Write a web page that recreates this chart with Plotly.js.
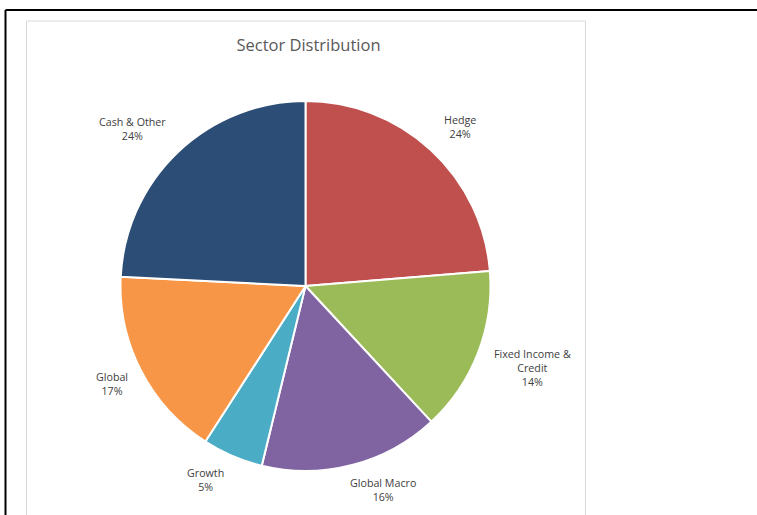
<!DOCTYPE html>
<html>
<head>
<meta charset="utf-8">
<script src="https://cdn.plot.ly/plotly-3.0.1.min.js"></script>
<style>
html,body{margin:0;padding:0;background:#fff;}
#chart{width:757px;height:515px;}
</style>
</head>
<body>
<div id="chart"></div>
<script>
// Data
const sectors = ["Hedge", "Fixed Income &<br>Credit", "Global Macro", "Growth", "Global", "Cash & Other"];
const shares = [23.7, 14.4, 15.7, 5.3, 16.7, 24.2];
const percentLabels = ["24%", "14%", "16%", "5%", "17%", "24%"];
const colors = ["#C0504D", "#9BBB59", "#8064A2", "#4BACC6", "#F79646", "#2C4D75"];

const W = 757, H = 515;
const cx = 305.5, cy = 286, R = 185;

// "best fit" label nudges in pixels (layout only)
const labelNudge = [[5, 3], [11, -2], [22, -9], [-13, -8], [2, -3], [-21, 3]];

// label annotations derived from slice mid-angles
const total = shares.reduce((a, b) => a + b, 0);
let cum = 0;
const annotations = [];
shares.forEach((v, i) => {
  const mid = (cum + v / 2) / total * 2 * Math.PI;
  cum += v;
  const lines = sectors[i].split("<br>").length + 1;
  const dist = R * 1.19 + (lines - 2) * 12;
  const px = cx + dist * Math.sin(mid) + labelNudge[i][0];
  const py = cy - dist * Math.cos(mid) + labelNudge[i][1];
  annotations.push({
    xref: "paper", yref: "paper",
    x: px / W, y: 1 - py / H,
    xanchor: "center", yanchor: "middle",
    text: sectors[i] + "<br>" + percentLabels[i],
    showarrow: false,
    align: "center",
    font: {family: "Open Sans, Lato, sans-serif", size: 10.7, color: "#404040"}
  });
});

const trace = {
  type: "pie",
  labels: sectors,
  values: shares,
  sort: false,
  direction: "clockwise",
  rotation: 0,
  textinfo: "none",
  hoverinfo: "label+percent",
  marker: {colors: colors, line: {color: "#ffffff", width: 2}},
  domain: {x: [(cx - R) / W, (cx + R) / W], y: [1 - (cy + R) / H, 1 - (cy - R) / H]},
  showlegend: false
};

const layout = {
  width: W, height: H,
  margin: {l: 0, r: 0, t: 0, b: 0},
  paper_bgcolor: "#ffffff",
  showlegend: false,
  title: {
    text: "Sector Distribution",
    x: 308.5 / W, xanchor: "center",
    y: 1 - 45 / H, yanchor: "middle",
    font: {family: "Open Sans, Lato, sans-serif", size: 16.5, color: "#595959"}
  },
  annotations: annotations,
  shapes: [
    {type: "line", xref: "paper", yref: "paper", x0: 5.5 / W, x1: 1.01, y0: 1 - 10 / H, y1: 1 - 10 / H, line: {color: "#000000", width: 2}},
    {type: "line", xref: "paper", yref: "paper", x0: 5.5 / W, x1: 5.5 / W, y0: 1 - 10 / H, y1: -0.01, line: {color: "#000000", width: 2}},
    {type: "rect", xref: "paper", yref: "paper", x0: 26.5 / W, x1: 585.5 / W, y0: -0.02, y1: 1 - 21 / H, line: {color: "#D9D9D9", width: 1}, layer: "below"}
  ]
};

Plotly.newPlot("chart", [trace], layout, {displayModeBar: false, staticPlot: true});
</script>
</body>
</html>
